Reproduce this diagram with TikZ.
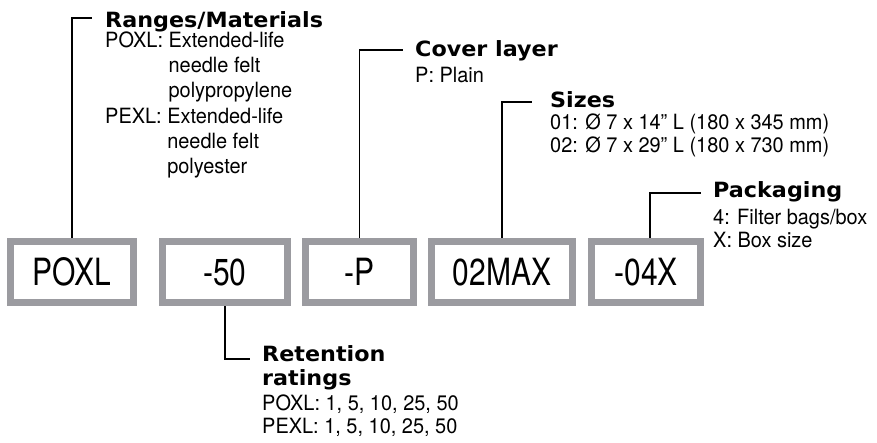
\documentclass[tikz,border=0pt]{standalone}
\usepackage{fontspec}
\setmainfont{TeX Gyre Heros}[FakeStretch=0.95]
\newfontfamily\headfam{DejaVu Sans}[FakeStretch=1.06]
\newfontfamily\boxfam{TeX Gyre Heros}[FakeStretch=0.8]
\newcommand\boxfont{\boxfam\fontsize{37.5}{40}\selectfont}
\definecolor{boxgray}{RGB}{155,155,160}
\begin{document}
\begin{tikzpicture}[x=1pt,y=-1pt,
  codebox/.style={draw=boxgray, line width=7pt, fill=white, inner sep=0pt,
    outer sep=3.5pt, minimum height=61pt, font=\boxfont},
  conn/.style={line width=1.4pt, draw=black},
  head/.style={anchor=base west, inner sep=0pt,
    font=\headfam\bfseries\fontsize{21}{24}\selectfont},
  body/.style={anchor=base west, inner sep=0pt,
    font=\fontsize{21}{23}\selectfont}]
\useasboundingbox (0,0) rectangle (877,443);

% code boxes
\node[codebox, minimum width=123pt] (b1) at (72,272) {POXL};
\node[codebox, minimum width=125pt] (b2) at (225,272) {-50};
\node[codebox, minimum width=108pt] (b3) at (359.5,272) {-P};
\node[codebox, minimum width=141pt] (b4) at (502,272) {02MAX};
\node[codebox, minimum width=109pt] (b5) at (646,272) {-04X};

% labels
\node[head] (h1) at (105,28) {Ranges/Materials};
\node[body] (t1) at (105,47.5) {\vtop{\baselineskip=25.2pt
  \hbox{POXL: Extended-life}
  \hbox{\phantom{POXL: }needle felt}
  \hbox{\phantom{POXL: }polypropylene}
  \hbox{PEXL: Extended-life}
  \hbox{\phantom{PEXL: }needle felt}
  \hbox{\phantom{PEXL: }polyester}}};

\node[head] (h3) at (415,57) {Cover layer};
\node[body] (t3) at (415,83) {P: Plain};

\node[head] (h4) at (550,108) {Sizes};
\node[body] (t4) at (550,130) {\vtop{\baselineskip=23pt
  \hbox{01: Ø 7 x 14” L (180 x 345 mm)}
  \hbox{02: Ø 7 x 29” L (180 x 730 mm)}}};

\node[head] (h5) at (713,198) {Packaging};
\node[body] (t5) at (713,225) {\vtop{\baselineskip=23pt
  \hbox{4: Filter bags/box}
  \hbox{X: Box size}}};

\node[head] (h2) at (262,361) {\vtop{\baselineskip=24pt
  \hbox{Retention}
  \hbox{ratings}}};
\node[body] (t2) at (262,410) {\vtop{\baselineskip=23pt
  \hbox{POXL: 1, 5, 10, 25, 50}
  \hbox{PEXL: 1, 5, 10, 25, 50}}};

% connectors
\coordinate (e1) at (92,18);
\coordinate (e2) at (250,359);
\coordinate (e3) at (403,50);
\coordinate (e4) at (532,102);
\coordinate (e5) at (701,193);
\draw[conn] (b1.north) |- (e1);
\draw[conn] (b2.south) |- (e2);
\draw[conn] (b3.north) |- (e3);
\draw[conn] (b4.north) |- (e4);
\draw[conn] ([xshift=4pt]b5.north) |- (e5);
\end{tikzpicture}
\end{document}
